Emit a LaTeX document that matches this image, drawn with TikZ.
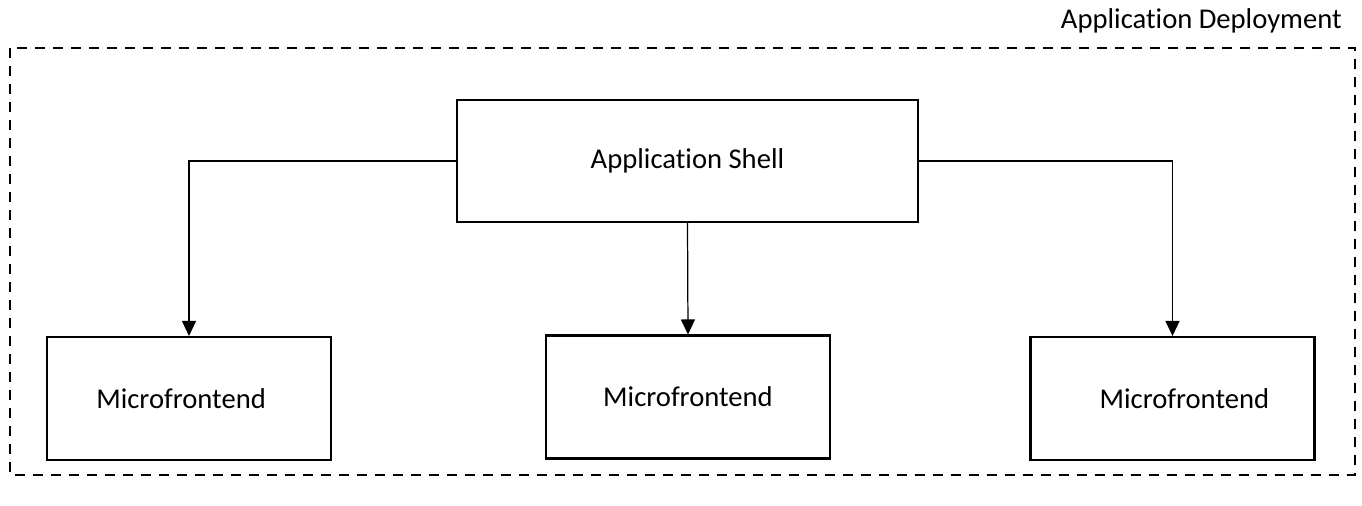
\documentclass[tikz,border=0pt]{standalone}
\usepackage{fontspec}
\setmainfont[Ligatures=NoCommon]{Carlito}
\usepackage{tikz}
\usetikzlibrary{arrows.meta,calc,positioning}
\definecolor{cizgi}{HTML}{000000}

\tikzset{
  kutu/.style={draw=cizgi,line width=1.2pt,minimum width=5.68cm,minimum height=2.46cm,font=\fontsize{16.3}{19}\selectfont},
  ok/.style={draw=cizgi,line width=0.7pt,-{Triangle[length=0.3cm,width=0.28cm]}}
}

\begin{document}
\begin{tikzpicture}[x=0.02cm,y=-0.02cm]
\useasboundingbox (0,0) rectangle (1362,505);
\draw[cizgi,line width=1.1pt,dash pattern=on 0.2cm off 0.16cm] (10,48) rectangle (1355,475);
\node[anchor=east,font=\fontsize{16.3}{19}\selectfont] (dagitim) at (1348,21) {Application Deployment};
\node[kutu,minimum width=9.22cm,minimum height=2.44cm] (kabuk) at (687.5,161) {Application Shell};
\node[kutu] (mfSol) at (189,398.5) {\hspace*{-9pt}Microfrontend};
\node[kutu] (mfOrta) at (688,397) {Microfrontend};
\node[kutu] (mfSag) at (1172.5,398.5) {\hspace*{13.5pt}Microfrontend};
\draw[ok] (kabuk.west) -| (mfSol.north);
\draw[ok] (kabuk.south) -- (mfOrta.north);
\draw[ok] (kabuk.east) -| (mfSag.north);
\end{tikzpicture}
\end{document}
